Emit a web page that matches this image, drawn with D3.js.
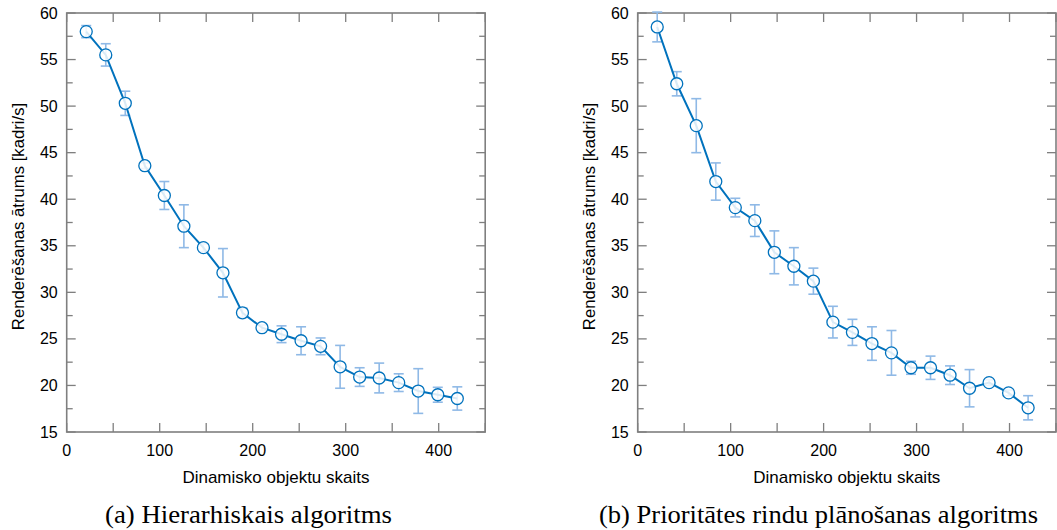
<!DOCTYPE html>
<html>
<head>
<meta charset="utf-8">
<script src="https://cdn.jsdelivr.net/npm/d3@7"></script>
<style>
  body { margin: 0; background: #fff; }
  svg { display: block; }
</style>
</head>
<body>
<div id="chart"></div>
<script>
// objektu skaits (x)
const objectCounts = [21, 42, 63, 84, 105, 126, 147, 168, 189, 210, 231, 252, 273, 294, 315, 336, 357, 378, 399, 420];

// (a) Hierarhiskais algoritms
const hierFps = [58.0, 55.5, 50.3, 43.6, 40.4, 37.1, 34.8, 32.1, 27.8, 26.2, 25.5, 24.8, 24.2, 22.0, 20.9, 20.8, 20.3, 19.4, 19.0, 18.6];
const hierErr = [0.65, 1.2, 1.3, 0.3, 1.5, 2.3, 0.4, 2.6, 0.5, 0.3, 0.9, 1.5, 0.9, 2.3, 1.0, 1.6, 0.95, 2.4, 0.8, 1.25];

// (b) Prioritātes rindu plānošanas algoritms
const prioFps = [58.5, 52.4, 47.9, 41.9, 39.1, 37.7, 34.3, 32.8, 31.2, 26.8, 25.7, 24.5, 23.5, 21.9, 21.9, 21.1, 19.7, 20.3, 19.2, 17.6];
const prioErr = [1.6, 1.3, 2.9, 2.0, 1.0, 1.7, 2.3, 2.0, 1.4, 1.7, 1.4, 1.8, 2.4, 0.7, 1.25, 1.0, 2.0, 0.3, 0.3, 1.3];

const xTicks = [0, 100, 200, 300, 400];
const yTicks = [15, 20, 25, 30, 35, 40, 45, 50, 55, 60];

const captions = ['(a) Hierarhiskais algoritms', '(b) Prioritātes rindu plānošanas algoritms'];
const xTitle = 'Dinamisko objektu skaits';
const yTitle = 'Renderēšanas ātrums [kadri/s]';

const W = 1057, H = 530;
const axisColor = '#7f7f7f';
const lineColor = '#0072bd';
const errColor = '#8fb9e6';
const sans = 'Liberation Sans, Arial, sans-serif';

const svg = d3.select('#chart').append('svg')
  .attr('width', W)
  .attr('height', H);

function drawPanel(left, right, fps, err, caption, captionX, captionWidth) {
  const top = 13, bottom = 432;
  const x = d3.scaleLinear().domain([0, 450]).range([left, right]);
  const y = d3.scaleLinear().domain([15, 60]).range([bottom, top]);
  const g = svg.append('g');

  // ticks inward on all four sides
  const xAll = d3.range(0, 451, 50);
  const yMinor = d3.range(15, 60.01, 2.5);

  g.selectAll('.xb').data(xAll).enter().append('line')
    .attr('x1', d => x(d)).attr('x2', d => x(d))
    .attr('y1', bottom).attr('y2', bottom - 9)
    .attr('stroke', axisColor).attr('stroke-width', 1.3);
  g.selectAll('.xt').data(xAll).enter().append('line')
    .attr('x1', d => x(d)).attr('x2', d => x(d))
    .attr('y1', top).attr('y2', top + 9)
    .attr('stroke', axisColor).attr('stroke-width', 1.3);

  const tickLen = d => (d % 5 === 0 ? 9 : 6);
  g.selectAll('.yl').data(yMinor).enter().append('line')
    .attr('x1', left).attr('x2', d => left + tickLen(d))
    .attr('y1', d => y(d)).attr('y2', d => y(d))
    .attr('stroke', axisColor).attr('stroke-width', 1.3);
  g.selectAll('.yr').data(yMinor).enter().append('line')
    .attr('x1', right).attr('x2', d => right - tickLen(d))
    .attr('y1', d => y(d)).attr('y2', d => y(d))
    .attr('stroke', axisColor).attr('stroke-width', 1.3);

  g.append('rect')
    .attr('x', left).attr('y', top)
    .attr('width', right - left).attr('height', bottom - top)
    .attr('fill', 'none')
    .attr('stroke', axisColor).attr('stroke-width', 1.6);

  // tick labels
  g.selectAll('.xlab').data(xTicks).enter().append('text')
    .attr('x', d => x(d)).attr('y', bottom + 24)
    .attr('text-anchor', 'middle')
    .style('font-family', sans)
    .style('font-size', '16px')
    .text(d => d);
  g.selectAll('.ylab').data(yTicks).enter().append('text')
    .attr('x', left - 9).attr('y', d => y(d) + 5.5)
    .attr('text-anchor', 'end')
    .style('font-family', sans)
    .style('font-size', '16px')
    .text(d => d);

  g.append('text')
    .attr('x', (left + right) / 2).attr('y', 483)
    .attr('text-anchor', 'middle')
    .style('font-family', sans)
    .style('font-size', '17px')
    .text(xTitle);
  g.append('text')
    .attr('transform', `translate(${left - 43},${(top + bottom) / 2 - 6}) rotate(-90)`)
    .attr('text-anchor', 'middle')
    .style('font-family', sans)
    .style('font-size', '16.7px')
    .text(yTitle);

  g.append('text')
    .attr('x', captionX).attr('y', 523)
    .attr('text-anchor', 'middle')
    .attr('textLength', captionWidth)
    .attr('lengthAdjust', 'spacingAndGlyphs')
    .style('font-family', 'Liberation Serif, Times New Roman, serif')
    .style('font-size', '25px')
    .text(caption);

  const pts = objectCounts.map((c, i) => ({ c, v: fps[i], e: err[i] }));

  // error bars
  const eb = g.selectAll('.eb').data(pts).enter().append('g')
    .attr('stroke', errColor).attr('stroke-width', 1.6);
  eb.append('line')
    .attr('x1', d => x(d.c)).attr('x2', d => x(d.c))
    .attr('y1', d => y(d.v - d.e)).attr('y2', d => y(d.v + d.e));
  eb.append('line')
    .attr('x1', d => x(d.c) - 5).attr('x2', d => x(d.c) + 5)
    .attr('y1', d => y(d.v - d.e)).attr('y2', d => y(d.v - d.e));
  eb.append('line')
    .attr('x1', d => x(d.c) - 5).attr('x2', d => x(d.c) + 5)
    .attr('y1', d => y(d.v + d.e)).attr('y2', d => y(d.v + d.e));

  g.append('path')
    .datum(pts)
    .attr('fill', 'none')
    .attr('stroke', lineColor)
    .attr('stroke-width', 2)
    .attr('d', d3.line().x(d => x(d.c)).y(d => y(d.v)));

  g.selectAll('.pt').data(pts).enter().append('circle')
    .attr('cx', d => x(d.c)).attr('cy', d => y(d.v))
    .attr('r', 6)
    .attr('fill', '#fff')
    .attr('fill-opacity', 0.85)
    .attr('stroke', lineColor)
    .attr('stroke-width', 1.3);
}

drawPanel(66.7, 485.2, hierFps, hierErr, captions[0], 248.5, 287);
drawPanel(637.7, 1056, prioFps, prioErr, captions[1], 818.5, 439);
</script>
</body>
</html>
